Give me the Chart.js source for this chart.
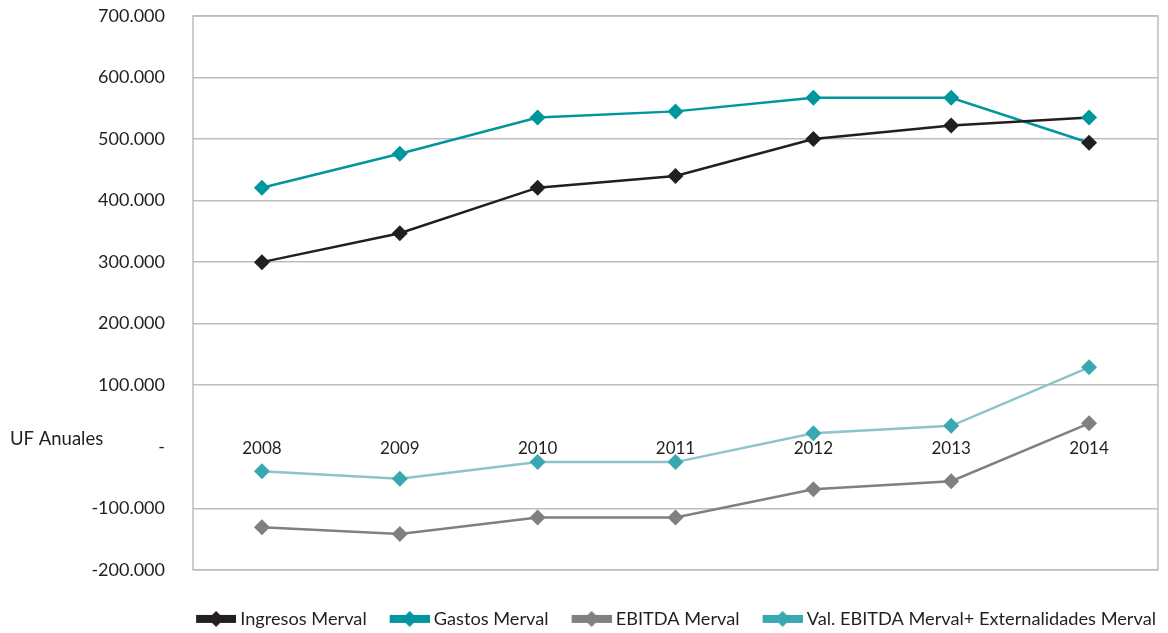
<!DOCTYPE html>
<html>
<head>
<meta charset="utf-8">
<script src="https://cdn.jsdelivr.net/npm/chart.js@4.4.1/dist/chart.umd.min.js"></script>
<style>
  html, body { margin: 0; padding: 0; background: #fff; }
  #wrap { width: 1168px; height: 633px; }
</style>
</head>
<body>
<div id="wrap"><canvas id="merval-chart"></canvas></div>
<script>
const years = ['2008', '2009', '2010', '2011', '2012', '2013', '2014'];
const ingresos = [300000, 347000, 421000, 440000, 500000, 522000, 535000];
const gastos = [421000, 476000, 535000, 545000, 567000, 567000, 494000];
const ebitda = [-131000, -142000, -115000, -115000, -69000, -56000, 38000];
const valEbitda = [-40000, -52000, -25000, -25000, 22000, 34000, 129000];
const yTicks = [-200000, -100000, 0, 100000, 200000, 300000, 400000, 500000, 600000, 700000];

const BLACK = '#231f20';
const TEAL = '#00969e';
const GRAY = '#808083';
const LIGHT_LINE = '#8cc4c9';
const LIGHT_MARK = '#3aa8b0';
const GRID = '#bdbdc1';
const FONT = 'Lato, "DejaVu Sans", sans-serif';

// legend swatch: thick bar with a diamond, right-aligned in a wider transparent canvas
// so the legend items keep their spacing while the text sits close to the swatch
const SW_BOX = 56;
const SW_W = 66;
const swatch = (color) => {
  const c = document.createElement('canvas');
  c.width = SW_W; c.height = 16;
  const g = c.getContext('2d');
  const x0 = SW_W - 40;
  g.fillStyle = color;
  g.fillRect(x0, 4, 40, 8);
  g.beginPath();
  g.moveTo(x0 + 20, 0); g.lineTo(x0 + 28, 8); g.lineTo(x0 + 20, 16); g.lineTo(x0 + 12, 8);
  g.closePath();
  g.fill();
  return c;
};

const fmt = (v) => {
  if (v === 0) return '-';
  const s = Math.abs(v).toString().replace(/\B(?=(\d{3})+(?!\d))/g, '.');
  return (v < 0 ? '-' : '') + s;
};

// the 2014 markers of the first two series are drawn in each other's colour
const ingresosMarks = years.map((_, i) => (i === 6 ? TEAL : BLACK));
const gastosMarks = years.map((_, i) => (i === 6 ? BLACK : TEAL));

const frame = {
  id: 'frame',
  beforeDatasetsDraw(chart) {
    const { ctx, chartArea: a } = chart;
    ctx.save();
    ctx.strokeStyle = GRID;
    ctx.lineWidth = 1.5;
    ctx.strokeRect(a.left, a.top, a.right - a.left, a.bottom - a.top);
    ctx.restore();
  },
  afterDraw(chart) {
    const { ctx } = chart;
    const y0 = chart.scales.y.getPixelForValue(0);
    ctx.save();
    ctx.fillStyle = '#231f20';
    ctx.font = '18.5px ' + FONT;
    ctx.textAlign = 'left';
    ctx.textBaseline = 'middle';
    ctx.fillText('UF Anuales', 10, y0 - 8);
    ctx.restore();
  }
};

const line = (label, data, lineColor, markColor, legendColor) => ({
  label: label,
  data: data,
  borderColor: lineColor,
  backgroundColor: lineColor,
  borderWidth: 2.5,
  pointStyle: 'rectRot',
  pointRadius: 8,
  pointHoverRadius: 8,
  pointBackgroundColor: markColor,
  pointBorderColor: markColor,
  pointBorderWidth: 0,
  tension: 0,
  fill: false,
  legendSwatch: legendColor
});

const ctx = document.getElementById('merval-chart').getContext('2d');
new Chart(ctx, {
  type: 'line',
  data: {
    labels: years,
    datasets: [
      line('Ingresos Merval', ingresos, BLACK, ingresosMarks, BLACK),
      line('Gastos Merval', gastos, TEAL, gastosMarks, TEAL),
      line('EBITDA Merval', ebitda, GRAY, GRAY, GRAY),
      line('Val. EBITDA Merval+ Externalidades Merval', valEbitda, LIGHT_LINE, LIGHT_MARK, LIGHT_MARK)
    ]
  },
  options: {
    responsive: true,
    maintainAspectRatio: false,
    animation: false,
    layout: { padding: { top: 16, right: 10, bottom: -5, left: 0 } },
    scales: {
      x: {
        position: { y: 0 },
        offset: true,
        grid: { display: false, drawTicks: false },
        border: { display: false },
        ticks: {
          color: '#231f20',
          font: { family: FONT, size: 17 },
          padding: -8,
          maxRotation: 0
        }
      },
      // empty axis that only keeps a gap between the plot and the legend
      gap: {
        type: 'category',
        position: 'bottom',
        grid: { display: false, drawTicks: false },
        border: { display: false },
        ticks: { display: false },
        afterFit: (scale) => { scale.height = 38; }
      },
      y: {
        min: -200000,
        max: 700000,
        afterBuildTicks: (scale) => { scale.ticks = yTicks.map(v => ({ value: v })); },
        afterFit: (scale) => {
          scale.width = 193;
          scale.paddingTop = 10;
          scale.paddingBottom = 10;
        },
        grid: {
          color: (c) => (c.tick && c.tick.value === 0 ? 'rgba(0,0,0,0)' : GRID),
          lineWidth: 1.5,
          drawTicks: false
        },
        border: { display: false },
        ticks: {
          color: '#231f20',
          font: { family: FONT, size: 18 },
          padding: 28,
          callback: (v) => fmt(v)
        }
      }
    },
    plugins: {
      tooltip: { enabled: false },
      legend: {
        position: 'bottom',
        align: 'end',
        labels: {
          color: '#231f20',
          font: { family: FONT, size: 18.2 },
          usePointStyle: true,
          pointStyleWidth: SW_BOX,
          boxHeight: 16,
          padding: 2,
          generateLabels: (chart) => chart.data.datasets.map((ds, i) => ({
            text: ds.label,
            pointStyle: swatch(ds.legendSwatch),
            fillStyle: ds.legendSwatch,
            strokeStyle: ds.legendSwatch,
            lineWidth: 0,
            fontColor: '#231f20',
            hidden: false,
            datasetIndex: i
          }))
        }
      }
    }
  },
  plugins: [frame]
});
</script>
</body>
</html>
